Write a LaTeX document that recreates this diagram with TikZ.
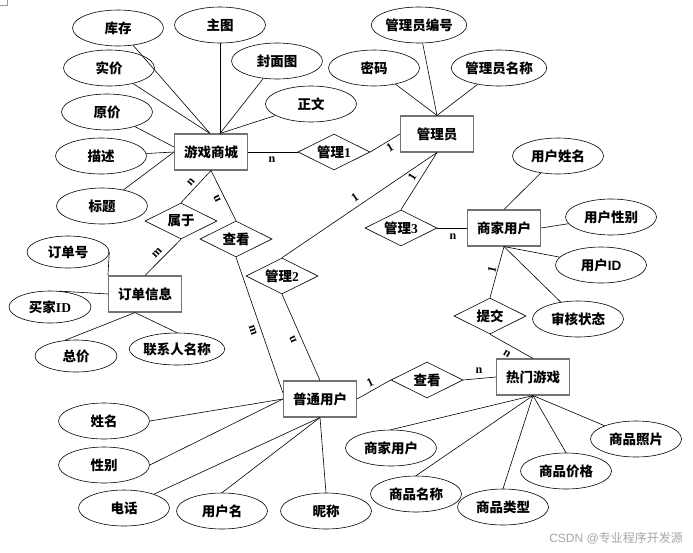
\documentclass[tikz,border=0pt]{standalone}
\usepackage{fontspec}
\setmainfont{Liberation Serif}
\newfontfamily\cjk{Noto Sans CJK SC}
\newfontfamily\lsans{Liberation Sans}
\newcommand\zh[1]{{\cjk #1}}
\usetikzlibrary{shapes.geometric}
\begin{document}
\begin{tikzpicture}[x=1pt,y=-1pt,
  lbl/.style={font=\bfseries\fontsize{13.5}{15}\selectfont},
  ent/.style={lbl, rectangle, draw=black!55, line width=1.1pt, minimum width=73pt, minimum height=36pt, inner sep=0pt},
  rel/.style={lbl, diamond, draw, line width=0.6pt, aspect=2, minimum width=72pt, minimum height=36pt, inner sep=0pt},
  attr/.style={lbl, ellipse, draw, line width=0.6pt, minimum width=91pt, minimum height=36pt, inner sep=0pt},
  sattr/.style={attr, minimum width=82pt, minimum height=32pt},
  card/.style={font=\bfseries\fontsize{12}{13}\selectfont, inner sep=0pt},
  lnk/.style={line width=0.6pt}]
\fill[white] (0,0) rectangle (693,552);
\useasboundingbox (0,0) rectangle (693,552);
\coordinate (c1) at (0,5); \coordinate (c2) at (7,5); \coordinate (c3) at (7,0);
\draw[black!40, line width=0.6pt] (c1) -- (c2) -- (c3);

% entities
\node[ent] (mall) at (211,152) {\zh{游戏商城}};
\node[ent] (admin) at (437,134) {\zh{管理员}};
\node[ent] (merchant) at (504,228) {\zh{商家用户}};
\node[ent] (order) at (145,294) {\zh{订单信息}};
\node[ent] (user) at (320,399) {\zh{普通用户}};
\node[ent] (hot) at (533,377) {\zh{热门游戏}};

% relations
\node[rel] (m1) at (334,152) {\zh{管理}1};
\node[rel] (belong) at (181,221) {\zh{属于}};
\node[rel] (view1) at (236,239) {\zh{查看}};
\node[rel] (m2) at (282,276) {\zh{管理}2};
\node[rel] (m3) at (401,228) {\zh{管理}3};
\node[rel] (submit) at (490,316) {\zh{提交}};
\node[rel] (view2) at (427,380) {\zh{查看}};

% attributes of mall
\node[attr] (astock) at (118,28) {\zh{库存}};
\node[attr] (amain) at (220,25) {\zh{主图}};
\node[attr] (acover) at (277,61) {\zh{封面图}};
\node[attr] (atext) at (311,104) {\zh{正文}};
\node[attr] (areal) at (109,68) {\zh{实价}};
\node[attr] (aorig) at (107,112) {\zh{原价}};
\node[attr] (adesc) at (101,156) {\zh{描述}};
\node[attr] (atitle) at (102,206) {\zh{标题}};
% admin
\node[attr] (aid) at (419,25) {\zh{管理员编号}};
\node[attr] (apwd) at (374,68) {\zh{密码}};
\node[attr] (aname) at (499,68) {\zh{管理员名称}};
% merchant
\node[attr] (muname) at (558,156) {\zh{用户姓名}};
\node[attr] (musex) at (611,217) {\zh{用户性别}};
\node[attr] (muid) at (601,265) {\zh{用户}{\lsans ID}};
\node[attr] (maudit) at (578,319) {\zh{审核状态}};
% order
\node[sattr] (ono) at (68,252) {\zh{订单号}};
\node[sattr] (obuyer) at (50,307) {\zh{买家}ID};
\node[sattr] (ototal) at (76,356) {\zh{总价}};
\node[sattr] (ocontact) at (177,349) {\zh{联系人名称}};
% user
\node[attr] (uname) at (104,421) {\zh{姓名}};
\node[attr] (usex) at (104,465) {\zh{性别}};
\node[attr] (utel) at (124,508) {\zh{电话}};
\node[attr] (ulogin) at (222,511) {\zh{用户名}};
\node[attr] (unick) at (326,511) {\zh{昵称}};
% hot game
\node[attr] (hmerchant) at (391,448) {\zh{商家用户}};
\node[attr] (hname) at (416,494) {\zh{商品名称}};
\node[attr] (htype) at (503,507) {\zh{商品类型}};
\node[attr] (hprice) at (566,471) {\zh{商品价格}};
\node[attr] (hphoto) at (636,439) {\zh{商品照片}};

% attribute links
\draw[lnk] (astock) -- ([xshift=-1pt]mall.north);
\draw[lnk] (areal) -- ([xshift=-1pt]mall.north);
\draw[lnk] (amain.south) -- ([xshift=9pt]mall.north);
\draw[lnk] (acover) -- ([xshift=9pt]mall.north);
\draw[lnk] (atext) -- ([xshift=9pt]mall.north);
\draw[lnk] (aorig) -- ([yshift=5pt]mall.west);
\draw[lnk] (adesc) -- (mall.west);
\draw[lnk] (atitle) -- (mall.west);

\draw[lnk] (aid) -- (admin.north);
\draw[lnk] (apwd) -- (admin.north);
\draw[lnk] (aname) -- (admin.north);

\draw[lnk] (muname) -- (merchant.north);
\draw[lnk] (musex) -- (merchant.east);
\draw[lnk] (muid) -- (merchant.south);
\draw[lnk] (maudit) -- (merchant.south);

\draw[lnk] (ono.east) -- (order.north west);
\draw[lnk] (obuyer.60) -- (order.west);
\draw[lnk] (ototal.125) -- ([xshift=-10pt]order.south);
\draw[lnk] (ocontact.north) -- ([xshift=-10pt]order.south);

\draw[lnk] (uname.east) -- (user.west);
\draw[lnk] (usex.east) -- (user.west);
\draw[lnk] (utel) -- (user.south);
\draw[lnk] (ulogin.north) -- (user.south);
\draw[lnk] (unick.north) -- (user.south);

\draw[lnk] (hmerchant.north) -- (hot.south);
\draw[lnk] (hname.north) -- (hot.south);
\draw[lnk] (htype.north) -- (hot.south);
\draw[lnk] (hprice.north) -- (hot.south);
\draw[lnk] (hphoto) -- (hot.south);

% relationship links
\draw[lnk] (mall.east) -- (m1.west);
\draw[lnk] (m1.east) -- (admin.west);
\draw[lnk] (mall.south) -- (belong.north);
\draw[lnk] (mall.south) -- (view1.north);
\draw[lnk] (order.north) -- (belong.south);
\draw[lnk] (view1.south) -- ([yshift=6pt]user.west);
\draw[lnk] (m2.north) -- (admin.south);
\draw[lnk] (m2.south) -- (user.north);
\draw[lnk] (m3.north) -- (admin.south);
\draw[lnk] (m3.east) -- (merchant.west);
\draw[lnk] (merchant.south) -- (submit.north);
\draw[lnk] (submit.south) -- (hot.north);
\draw[lnk] (user.east) -- (view2.west);
\draw[lnk] (view2.east) -- (hot.west);

% cardinalities
\node[card] (k1) at (272,160) {n};
\node[card, rotate=31] (k2) at (390,148) {1};
\node[card, rotate=48] (k3) at (191,182) {n};
\node[card, rotate=116] (k4) at (217,199) {n};
\node[card, rotate=46] (k5) at (157,253) {m};
\node[card, rotate=-71] (k6) at (253,330) {m};
\node[card, rotate=113] (k7) at (293,340) {n};
\node[card, rotate=34] (k8) at (355,198) {1};
\node[card, rotate=58] (k9) at (412,177) {1};
\node[card] (k10) at (453,237) {n};
\node[card, rotate=76] (k11) at (492,270) {1};
\node[card, rotate=-31] (k12) at (507,354) {n};
\node[card] (k13) at (479,371) {n};
\node[card, rotate=26] (k14) at (370,383) {1};

% watermark
\node[anchor=east, text=black!35, font=\fontsize{12}{13}\selectfont, inner sep=0pt] (wm) at (683,538) {{\lsans CSDN @}\zh{专业程序开发源}};
\end{tikzpicture}
\end{document}
